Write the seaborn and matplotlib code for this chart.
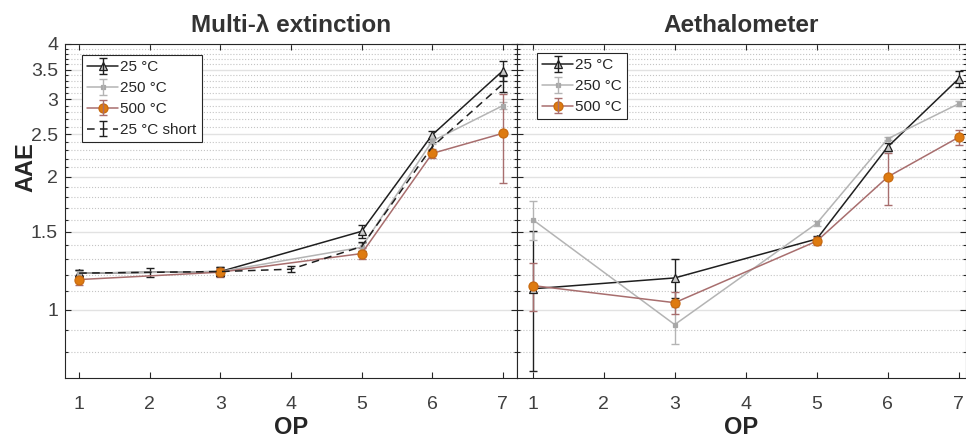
import numpy as np
import pandas as pd
import matplotlib.pyplot as plt
import seaborn as sns
from matplotlib.legend_handler import HandlerTuple
from matplotlib.ticker import FixedLocator, NullFormatter

# OP positions
op_main = [1, 3, 5, 6, 7]
op_short = [1, 2, 3, 4, 5, 6, 7]

# Multi-lambda extinction AAE
ext_25 = [1.21, 1.22, 1.505, 2.49, 3.48]
ext_25_err = [0.02, 0.03, 0.05, 0.05, 0.18]
ext_250 = [1.21, 1.22, 1.385, 2.41, 2.90]
ext_250_err = [0.02, 0.02, 0.03, 0.04, 0.05]
ext_500 = [1.17, 1.216, 1.34, 2.26, 2.51]
ext_500_err = [0.03, 0.03, 0.04, 0.05, 0.57]
ext_25s = [1.21, 1.215, 1.22, 1.235, 1.39, 2.34, 3.25]
ext_25s_err = [0.02, 0.03, 0.03, 0.02, 0.03, 0.06, 0.14]

# Aethalometer AAE
aeth_25 = [1.115, 1.18, 1.446, 2.34, 3.34]
aeth_25_err = [0.39, 0.12, 0.02, 0.05, 0.14]
aeth_250 = [1.60, 0.925, 1.569, 2.44, 2.93]
aeth_250_err = [0.16, 0.09, 0.02, 0.02, 0.04]
aeth_500 = [1.134, 1.037, 1.43, 2.00, 2.46]
aeth_500_err = [0.14, 0.06, 0.03, 0.27, 0.10]

labels = ['25 °C', '250 °C', '500 °C', '25 °C short']

styles = {
    '25 °C': dict(color='#1f1f1f', marker='^', ms=6, mfc='#c8c8c8', mec='#1f1f1f', ls='-', ecolor='#1f1f1f'),
    '250 °C': dict(color='#b4b4b4', marker='s', ms=3.5, mfc='#a8a8a8', mec='#a8a8a8', ls='-', ecolor='#b4b4b4'),
    '500 °C': dict(color='#a86e6e', marker='o', ms=6.5, mfc='#de7b10', mec='#c86a10', ls='-', ecolor='#a86e6e'),
    '25 °C short': dict(color='#1f1f1f', marker=None, ms=0, mfc='none', mec='none', ls=(0, (5, 3.5)), ecolor='#1f1f1f'),
}

sns.set_theme(style='ticks')
plt.rcParams['font.family'] = ['Liberation Sans', 'DejaVu Sans']


def draw(ax, x, y, err, label):
    st = styles[label]
    df = pd.DataFrame({'OP': x, 'AAE': y})
    sns.lineplot(data=df, x='OP', y='AAE', ax=ax, color=st['color'], linestyle=st['ls'],
                 linewidth=1.1, marker=st['marker'], markersize=st['ms'],
                 markerfacecolor=st['mfc'], markeredgecolor=st['mec'], markeredgewidth=0.9,
                 errorbar=None, legend=False, zorder=3)
    line = ax.lines[-1]
    eb = ax.errorbar(x, y, yerr=err, fmt='none', ecolor=st['ecolor'], elinewidth=1.0,
                     capsize=3, capthick=1.0, zorder=2)
    return (line, eb)


fig = plt.figure(figsize=(9.66, 4.41), dpi=100)
ax1 = fig.add_axes([65 / 966, 1 - 378 / 441, 452 / 966, 334 / 441])
ax2 = fig.add_axes([517 / 966, 1 - 378 / 441, 449 / 966, 334 / 441], sharey=ax1)

h1 = [draw(ax1, op_main, ext_25, ext_25_err, labels[0]),
      draw(ax1, op_main, ext_250, ext_250_err, labels[1]),
      draw(ax1, op_main, ext_500, ext_500_err, labels[2]),
      draw(ax1, op_short, ext_25s, ext_25s_err, labels[3])]
h2 = [draw(ax2, op_main, aeth_25, aeth_25_err, labels[0]),
      draw(ax2, op_main, aeth_250, aeth_250_err, labels[1]),
      draw(ax2, op_main, aeth_500, aeth_500_err, labels[2])]

major = [1, 1.5, 2, 2.5, 3, 3.5, 4]
minor = [v / 10 for v in range(8, 40) if v % 5 != 0]

for ax in (ax1, ax2):
    ax.set_yscale('log')
    ax.set_ylim(0.7, 4)
    ax.yaxis.set_major_locator(FixedLocator(major))
    ax.yaxis.set_minor_locator(FixedLocator(minor))
    ax.yaxis.set_minor_formatter(NullFormatter())
    ax.set_xticks(op_short)
    ax.yaxis.grid(True, which='major', color='#e2e2e2', linestyle='-', linewidth=1.0)
    ax.yaxis.grid(True, which='minor', color='#c4c4c4', linestyle=':', linewidth=0.8)
    ax.xaxis.grid(False)
    ax.tick_params(which='both', direction='in', top=True, right=True, colors='#262626',
                   labelcolor='#404040', labelsize=14, width=0.8)
    ax.tick_params(which='major', length=4)
    ax.tick_params(which='minor', length=2)
    ax.tick_params(axis='x', which='major', pad=13)
    ax.tick_params(axis='y', which='major', pad=5)
    for s in ax.spines.values():
        s.set_color('#262626')
        s.set_linewidth(0.8)
    ax.set_xlabel('OP', fontsize=17, fontweight='bold', color='#262626', labelpad=2)

ax1.set_xlim(0.8, 7.2)
ax2.set_xlim(0.78, 7.1)
ax1.set_yticklabels(['1', '1.5', '2', '2.5', '3', '3.5', '4'])
ax1.set_ylabel('AAE', fontsize=17, fontweight='bold', color='#262626')
ax1.yaxis.set_label_coords(-0.062, 0.632)
ax2.set_ylabel('')
plt.setp(ax2.get_yticklabels(), visible=False)

ax1.set_title('Multi-λ extinction', fontsize=17.5, fontweight='bold', color='#333333', pad=9)
ax2.set_title('Aethalometer', fontsize=17.5, fontweight='bold', color='#333333', pad=9)

anchors = {ax1: (17 / 452, 1 - 11 / 334), ax2: (20 / 449, 1 - 9 / 334)}
for ax, hs in ((ax1, h1), (ax2, h2)):
    leg = ax.legend(hs, labels[:len(hs)], loc='upper left', bbox_to_anchor=anchors[ax],
                    handler_map={tuple: HandlerTuple(ndivide=1)}, fontsize=11,
                    frameon=True, fancybox=False, framealpha=1, edgecolor='#262626',
                    handlelength=2.0, handletextpad=0.15, borderpad=0.35, labelspacing=0.45,
                    borderaxespad=0)
    leg.get_frame().set_linewidth(0.8)

fig.savefig('out.png', dpi=100)
